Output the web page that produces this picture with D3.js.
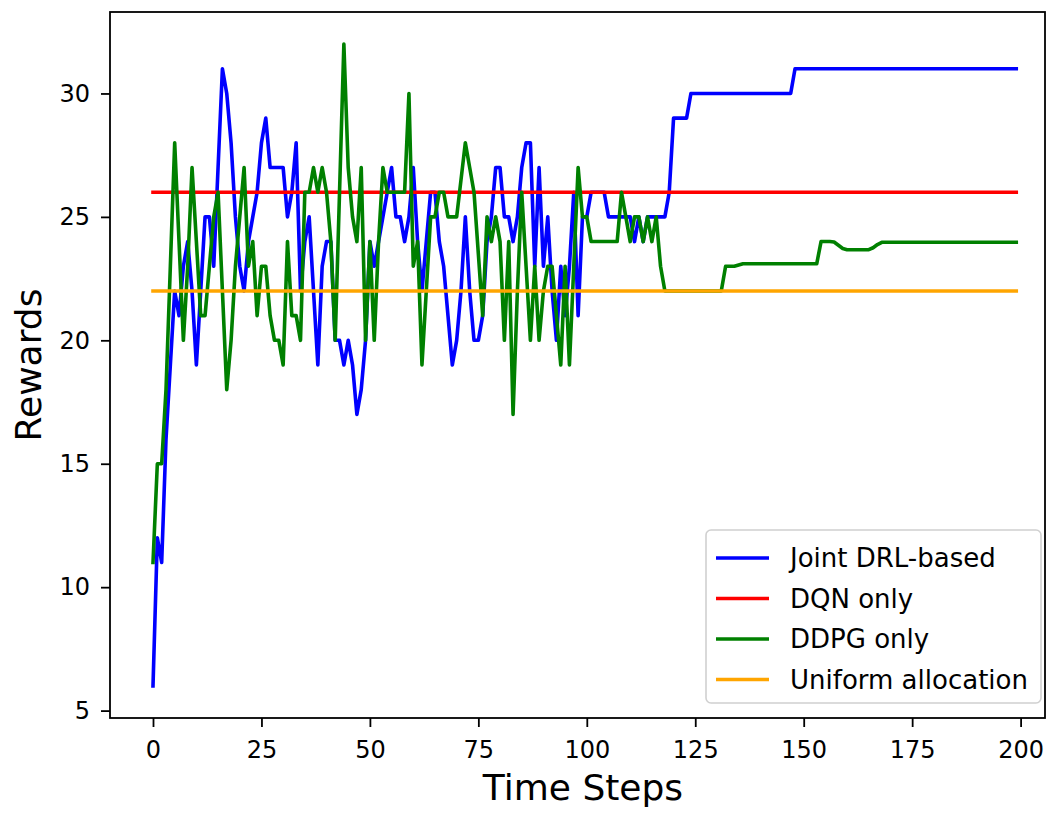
<!DOCTYPE html>
<html><head><meta charset="utf-8">
<script src="https://cdn.jsdelivr.net/npm/d3@7"></script>
<style>body{margin:0;background:#fff}svg{display:block}text{font-family:"DejaVu Sans",sans-serif;fill:#000}</style>
</head><body><svg id="c" width="1059" height="813"></svg>
<script>
const jointDRL = [
6,12,11,16,19,22,21,23,24,22,
19,22,25,25,23,27,31,30,28,25,
23,22,24,25,26,28,29,27,27,27,
27,25,26,28,22,24,25,22,19,23,
24,24,20,20,19,20,19,17,18,20,
24,23,24,25,26,27,25,25,24,25,
27,24,22,24,26,26,24,23,21,19,
20,22,25,22,20,20,21,24,25,27,
27,25,25,24,25,27,28,28,23,27,
23,25,22,20,23,21,23,26,21,25,
25,26,26,26,26,25,25,25,25,25,
25,24,25,24,25,25,25,25,25,26,
29,29,29,29,30,30,30,30,30,30,
30,30,30,30,30,30,30,30,30,30,
30,30,30,30,30,30,30,30,31,31,
31,31,31,31,31,31,31,31,31,31,
31,31,31,31,31,31,31,31,31,31,
31,31,31,31,31,31,31,31,31,31,
31,31,31,31,31,31,31,31,31,31,
31,31,31,31,31,31,31,31,31,31];
const ddpgOnly = [
11,15,15,18,23,28,24,20,23,27,
24,21,21,23,25,26,22,18,20,23,
25,27,23,24,21,23,23,21,20,20,
19,24,21,21,20,26,26,27,26,27,
26,24,20,26,32,27,25,24,27,20,
24,20,24,27,26,26,26,26,26,30,
23,24,19,22,25,25,26,26,25,25,
25,26.5,28,27,26,23.5,21,25,24,25,
24,20,24,17,22,26,23,20,23,20,
22,23,23,21,19,23,19,23,27,25,
25,24,24,24,24,24,24,24,26,25,
24,25,25,24,25,24,25,23,22,22,
22,22,22,22,22,22,22,22,22,22,
22,22,23,23,23,23.05,23.1,23.1,23.1,23.1,
23.1,23.1,23.1,23.1,23.1,23.1,23.1,23.1,23.1,23.1,
23.1,23.1,23.1,23.1,24,24,24,23.98,23.85,23.72,
23.67,23.67,23.67,23.67,23.67,23.67,23.75,23.88,23.97,23.97,
23.97,23.97,23.97,23.97,23.97,23.97,23.97,23.97,23.97,23.97,
23.97,23.97,23.97,23.97,23.97,23.97,23.97,23.97,23.97,23.97,
23.97,23.97,23.97,23.97,23.97,23.97,23.97,23.97,23.97,23.97];
const dqnOnly = 26;
const uniformAllocation = 22;
const xTicks = [0,25,50,75,100,125,150,175,200];
const yTicks = [5,10,15,20,25,30];
const seriesNames = ["Joint DRL-based","DQN only","DDPG only","Uniform allocation"];
const seriesColors = ["blue","red","green","orange"];

const steps = jointDRL.map((d,i)=>i);
const box = {left:110,right:1045,top:12,bottom:718};
const svg = d3.select("#c");
const x = d3.scaleLinear().domain([0,200]).range([153,1020.6]);
const y = d3.scaleLinear().domain([4.7,33.3]).range([box.bottom,box.top]);

svg.append("defs").append("clipPath").attr("id","clip")
  .append("rect").attr("x",box.left).attr("y",box.top)
  .attr("width",box.right-box.left).attr("height",box.bottom-box.top);

const series = [
  steps.map(i=>[i,jointDRL[i]]),
  [[steps[0],dqnOnly],[steps[steps.length-1],dqnOnly]],
  steps.map(i=>[i,ddpgOnly[i]]),
  [[steps[0],uniformAllocation],[steps[steps.length-1],uniformAllocation]]
];
const line = d3.line().x(d=>x(d[0])).y(d=>y(d[1]));
const plot = svg.append("g").attr("clip-path","url(#clip)");
series.forEach((s,k)=>{
  plot.append("path").datum(s).attr("d",line)
    .attr("fill","none").attr("stroke",seriesColors[k])
    .attr("stroke-width",3.6).attr("stroke-linejoin","round").attr("stroke-linecap","square");
});

// axes
const gx = svg.append("g").attr("transform",`translate(0,${box.bottom})`)
  .call(d3.axisBottom(x).tickValues(xTicks).tickSize(9).tickPadding(14).tickFormat(d3.format("d")));
const gy = svg.append("g").attr("transform",`translate(${box.left},0)`)
  .call(d3.axisLeft(y).tickValues(yTicks).tickSize(9).tickPadding(11).tickFormat(d3.format("d")));
[gx,gy].forEach(g=>{
  g.select(".domain").remove();
  g.selectAll(".tick line").attr("stroke","#000").attr("stroke-width",1.8);
  g.selectAll(".tick text").attr("font-size",24).attr("font-family","DejaVu Sans").attr("fill","#000");
});

svg.append("rect").attr("x",box.left).attr("y",box.top)
  .attr("width",box.right-box.left).attr("height",box.bottom-box.top)
  .attr("fill","none").attr("stroke","#000").attr("stroke-width",1.8);

svg.append("text").attr("x",583).attr("y",800).attr("text-anchor","middle")
  .attr("font-size",36).text("Time Steps");
svg.append("text").attr("transform","translate(41,365) rotate(-90)").attr("text-anchor","middle")
  .attr("font-size",36).text("Rewards");

// legend
const lg = svg.append("g");
lg.append("rect").attr("x",706).attr("y",530).attr("width",335).attr("height",173)
  .attr("rx",5).attr("fill","#fff").attr("fill-opacity",0.8)
  .attr("stroke","#d0d0d0").attr("stroke-width",1.6);
seriesNames.forEach((name,k)=>{
  const yy = 558 + k*40.5;
  lg.append("line").attr("x1",716).attr("x2",769).attr("y1",yy).attr("y2",yy)
    .attr("stroke",seriesColors[k]).attr("stroke-width",3.6);
  lg.append("text").attr("x",790).attr("y",yy).attr("dy","0.35em")
    .attr("font-size",26).text(name);
});
</script></body></html>
